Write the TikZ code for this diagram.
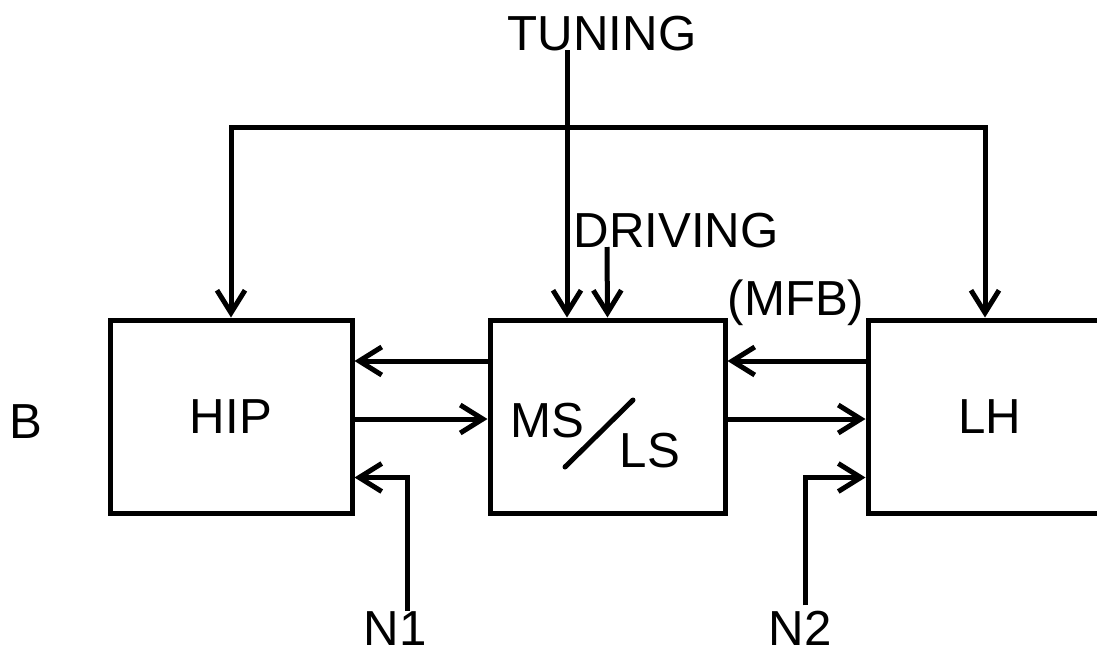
\documentclass[tikz,border=0pt]{standalone}
\usepackage{fontspec}
\setmainfont{Liberation Sans}
\usetikzlibrary{arrows.meta}

\begin{document}
\begin{tikzpicture}[
    block/.style={rectangle, draw=black, line width=1mm,
                  minimum width=4.8cm, minimum height=3.86cm,
                  font=\fontsize{28}{32}\selectfont},
    tag/.style={anchor=base, inner sep=0pt,
                font=\fontsize{28}{32}\selectfont},
    arrow/.style={->, >={Straight Barb[length=4.5mm, width=5.6mm]},
                  line width=1mm}
  ]

    \clip (0,0) rectangle (21.94,-13.16);

    % Blocks
    \node[block, minimum width=4.84cm] (hip) at (4.62,-8.33) {HIP};
    \node[block, minimum width=4.7cm] (ms) at (12.15,-8.33) {};
    \node[block, minimum width=4.88cm] (lh) at (19.8,-8.33) {LH};

    % MS/LS inside the middle block
    \node[tag] (msup) at (10.94,-8.74) {MS};
    \node[tag] (lsdown) at (13.0,-9.34) {LS};
    \draw[line width=1mm, line cap=round] (11.3,-9.34) -- (12.66,-8.0);

    % Outer labels
    \node[tag] (tuning) at (12.04,-1.0) {TUNING};
    \node[tag] (driving) at (13.52,-4.94) {DRIVING};
    \node[tag] (mfb) at (15.92,-6.3) {(MFB)};
    \node[tag] (b) at (0.52,-8.76) {B};
    \node[tag] (n1) at (7.9,-12.9) {N1};
    \node[tag] (n2) at (16.0,-12.9) {N2};

    % Loop over the top
    \coordinate (loop) at (12,-2.54);
    \draw[arrow, <->] (hip.north) |- (loop) -| ([xshift=-1mm]lh.north);

    % Tuning and driving
    \draw[arrow] ([xshift=-7mm]tuning.base) -- ([xshift=-8.1mm]ms.north);
    \draw[arrow] ([xshift=-13.8mm]driving.base) -- (ms.north);

    % HIP <-> MS/LS
    \draw[arrow] ([yshift=11.1mm]ms.west) -- ([yshift=11.1mm]hip.east);
    \draw[arrow] ([yshift=-0.5mm]hip.east) -- ([yshift=-0.5mm]ms.west);
    \draw[arrow] ([xshift=2.4mm, yshift=0mm]n1.north) |- ([yshift=-12.2mm]hip.east);

    % MS/LS <-> LH
    \draw[arrow] ([yshift=11.1mm]lh.west) -- ([yshift=11.1mm]ms.east);
    \draw[arrow] ([yshift=-0.5mm]ms.east) -- ([yshift=-0.5mm]lh.west);
    \draw[arrow] ([xshift=1mm, yshift=1mm]n2.north) |- ([yshift=-12.2mm]lh.west);

  \end{tikzpicture}
\end{document}
